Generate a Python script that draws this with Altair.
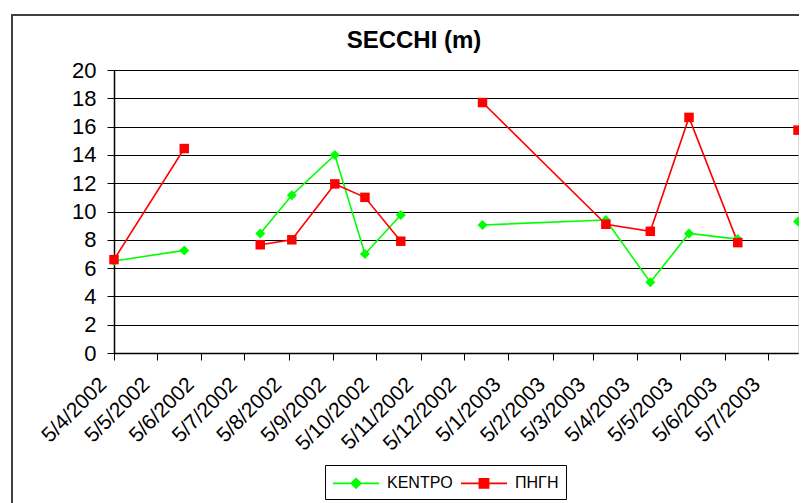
import altair as alt
import pandas as pd

# ---- data ----
dates = ["2002-04-05", "2002-05-24", "2002-07-16", "2002-08-07", "2002-09-06",
         "2002-09-27", "2002-10-22", "2002-12-18", "2003-03-14", "2003-04-14",
         "2003-05-11", "2003-06-14", "2003-07-26"]
segment = [0, 0, 1, 1, 1, 1, 1, 2, 2, 2, 2, 2, 3]
kentro = [6.5, 7.25, 8.45, 11.15, 14.0, 7.0, 9.75, 9.05, 9.4, 5.0, 8.45, 8.05, 9.3]
pigi = [6.6, 14.45, 7.65, 8.0, 11.95, 11.0, 7.9, 17.7, 9.1, 8.6, 16.65, 7.8, 15.75]
series_names = ["ΚΕΝΤΡΟ", "ΠΗΓΗ"]
series_colors = ["#00FF00", "#FF0000"]
tick_dates = [(2002, m) for m in range(4, 13)] + [(2003, m) for m in range(1, 8)]
y_ticks = list(range(0, 21, 2))
title_text = "SECCHI (m)"

rows = []
for name, vals in zip(series_names, [kentro, pigi]):
    for d, s, v in zip(dates, segment, vals):
        rows.append({"date": d + "T00:00:00", "seg": s, "value": v, "series": name})
df = pd.DataFrame(rows)

FONT = "Liberation Sans"

x_enc = alt.X(
    "date:T",
    scale=alt.Scale(domain=[alt.DateTime(year=2002, month=4, date=5),
                            alt.DateTime(year=2003, month=7, date=26)]),
    axis=alt.Axis(
        values=[alt.DateTime(year=y, month=m, date=5) for y, m in tick_dates],
        format="%-d/%-m/%Y", labelAngle=315, labelAlign="right",
        labelBaseline="middle", labelFontSize=21, labelFont=FONT,
        labelColor="black", labelOverlap=False, labelFlush=False,
        labelOffset=-11, labelPadding=21,
        tickSize=7, tickColor="black", domainColor="black", domainWidth=1.5,
        grid=False, title=None),
)
y_enc = alt.Y(
    "value:Q",
    scale=alt.Scale(domain=[0, 20], nice=False, zero=True),
    axis=alt.Axis(
        values=y_ticks, labelFontSize=22, labelFont=FONT, labelColor="black",
        labelPadding=11, labelFlush=False, tickSize=7, tickColor="black",
        domainColor="black", domainWidth=1.5,
        grid=True, gridColor="black", gridWidth=1, title=None),
)

base = alt.Chart(df)

layers = []
shapes = ["diamond", "square"]
sizes = [100, 90]
for name, col in zip(series_names, series_colors):
    layers.append(
        base.transform_filter(alt.datum.series == name)
        .mark_line(color=col, strokeWidth=1.6)
        .encode(x=x_enc, y=y_enc, detail="seg:N")
    )
for name, col, shp, sz in zip(series_names, series_colors, shapes, sizes):
    layers.append(
        base.transform_filter(alt.datum.series == name)
        .mark_point(filled=True, shape=shp, size=sz, color=col, opacity=1)
        .encode(x=x_enc, y=y_enc)
    )

# legend symbols: a line with the marker in its middle
legend_paths = [
    "M-1,0H3.6M1.3,-0.47L1.77,0L1.3,0.47L0.83,0Z",
    "M-1,0H3.6M0.85,-0.45H1.75V0.45H0.85Z",
]
leg = alt.Legend(
    orient="none", legendX=211, legendY=395, direction="horizontal",
    title=None, strokeColor="black", padding=7, labelFont=FONT,
    labelFontSize=16, labelColor="black", symbolSize=400,
    symbolStrokeWidth=1.8, labelOffset=33, columnPadding=4, symbolOpacity=1,
)
legend_layer = (
    base.transform_filter("false")
    .mark_point(filled=True, opacity=1)
    .encode(
        color=alt.Color("series:N", scale=alt.Scale(domain=series_names, range=series_colors), legend=leg),
        stroke=alt.Stroke("series:N", scale=alt.Scale(domain=series_names, range=series_colors), legend=leg),
        shape=alt.Shape("series:N", scale=alt.Scale(domain=series_names, range=legend_paths), legend=leg),
    )
)

one = alt.Chart(pd.DataFrame({"t": [title_text]}))
title = one.mark_text(
    font=FONT, fontSize=24, fontWeight="bold", color="black",
    align="center", baseline="alphabetic", clip=False,
).encode(text="t:N", x=alt.value(300), y=alt.value(-22))

frame = (
    one.mark_rect(fillOpacity=0, stroke="#404040", strokeWidth=2, clip=False)
    .encode(x=alt.value(-102), x2=alt.value(900), y=alt.value(-55), y2=alt.value(600))
)

chart = (
    alt.layer(*layers, legend_layer, title, frame)
    .properties(
        width=684, height=283,
        autosize=alt.AutoSizeParams(type="none"),
        padding={"left": 106, "top": 62, "right": 1, "bottom": 150},
    )
    .configure_view(stroke="#808080", strokeWidth=2)
    .configure(background="white")
)

chart.save("out.html", embed_options={"renderer": "svg", "actions": False})
